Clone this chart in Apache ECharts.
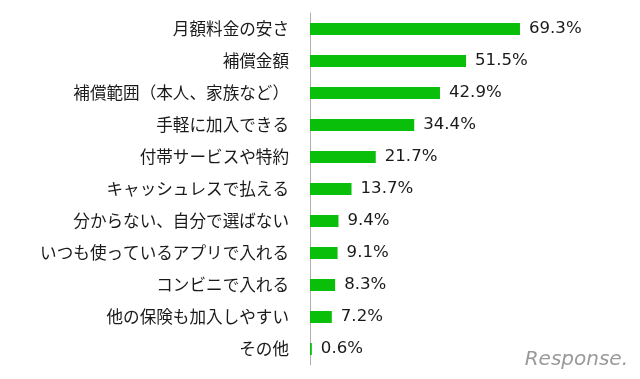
<!DOCTYPE html>
<html><head><meta charset="utf-8">
<script src="https://cdn.jsdelivr.net/npm/echarts@6/dist/echarts.min.js"></script>
<style>html,body{margin:0;padding:0;background:#fff}#c{width:640px;height:379px}</style>
</head><body><div id="c"></div>
<script>
const categories = ["月額料金の安さ","補償金額","補償範囲（本人、家族など）","手軽に加入できる","付帯サービスや特約","キャッシュレスで払える","分からない、自分で選ばない","いつも使っているアプリで入れる","コンビニで入れる","他の保険も加入しやすい","その他"];
const values = [69.3,51.5,42.9,34.4,21.7,13.7,9.4,9.1,8.3,7.2,0.6];

const chart = echarts.init(document.getElementById('c'));
chart.setOption({
  animation:false,
  grid:{left:310,right:27,top:13,bottom:14},
  xAxis:{type:'value',min:0,max:100,show:false},
  yAxis:{type:'category',data:categories,inverse:true,
    axisLine:{lineStyle:{color:'#b0b0b0'}},
    axisTick:{length:4,lineStyle:{color:'#b0b0b0'}},
    axisLabel:{margin:21,fontSize:16.6,color:'#1a1a1a',fontFamily:'Noto Sans CJK JP'}
  },
  series:[{type:'bar',data:values,barWidth:12,itemStyle:{color:'#0abf0a'},
    label:{show:true,position:'right',distance:9,fontSize:16.6,color:'#1a1a1a',fontFamily:'DejaVu Sans',
      formatter:p=>p.value.toFixed(1)+'%'}}],
  graphic:[{type:'text',right:12,bottom:9,style:{text:'Response.',fontSize:20,fill:'#9a9a9a',fontFamily:'DejaVu Sans',fontStyle:'italic'}}]
});
</script></body></html>
